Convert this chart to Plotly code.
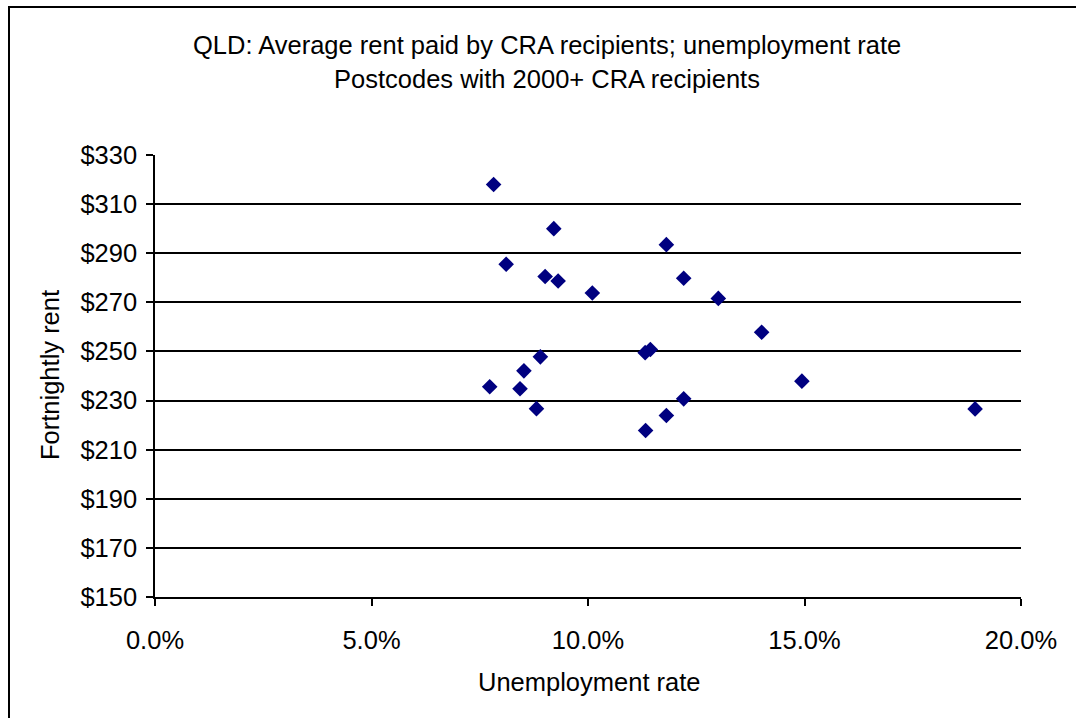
import plotly.graph_objects as go

# Unemployment rate (%) and average fortnightly rent ($) per postcode
unemployment = [7.82, 9.21, 11.81, 8.11, 9.01, 9.31, 10.10, 12.21, 13.01, 14.01,
                11.32, 11.44, 8.90, 8.52, 7.73, 8.43, 14.94, 12.21, 8.81, 11.81,
                11.33, 18.94]
rent = [318, 300, 293.5, 285.5, 280.5, 278.7, 273.8, 279.8, 271.6, 257.8,
        249.5, 250.8, 247.8, 242.1, 235.6, 234.8, 237.9, 230.7, 226.7, 223.9,
        217.8, 226.6]

x_ticks = [0, 5, 10, 15, 20]
x_tick_labels = ["0.0%", "5.0%", "10.0%", "15.0%", "20.0%"]
y_ticks = list(range(150, 331, 20))
y_tick_labels = ["$" + str(v) for v in y_ticks]

title_line1 = "QLD: Average rent paid by CRA recipients; unemployment rate"
title_line2 = "Postcodes with 2000+ CRA recipients"
x_title = "Unemployment rate"
y_title = "Fortnightly rent"

W, H = 1076, 718
L, R, T, B = 155, 55, 155, 121
pw, ph = W - L - R, H - T - B

def px_x(p):
    return (p - L) / pw

def px_y(p):
    return (H - B - p) / ph

FONT = "Liberation Sans, Arial, sans-serif"
FS = 25.5

fig = go.Figure()
fig.add_trace(go.Scatter(
    x=unemployment, y=rent, mode="markers",
    marker=dict(symbol="diamond", size=12, color="#000080", line=dict(width=0)),
    showlegend=False, cliponaxis=False,
))

fig.update_layout(
    width=W, height=H,
    margin=dict(l=L, r=R, t=T, b=B, pad=0),
    paper_bgcolor="white", plot_bgcolor="white",
    font=dict(family=FONT, size=FS, color="black"),
    showlegend=False,
    xaxis=dict(
        range=[0, 20], tickvals=x_ticks, ticktext=x_tick_labels,
        showgrid=False, zeroline=False,
        showline=True, linecolor="black", linewidth=1.5,
        ticks="outside", ticklen=7, tickwidth=1.5, tickcolor="black",
        ticklabelstandoff=13,
        tickfont=dict(family=FONT, size=FS, color="black"),
    ),
    yaxis=dict(
        range=[150, 330], tickvals=y_ticks, ticktext=y_tick_labels,
        showgrid=True, gridcolor="black", gridwidth=1.5, zeroline=False,
        showline=True, linecolor="black", linewidth=1.5,
        ticks="outside", ticklen=7, tickwidth=1.5, tickcolor="black",
        ticklabelstandoff=4,
        tickfont=dict(family=FONT, size=FS, color="black"),
    ),
    shapes=[dict(
        type="rect", xref="paper", yref="paper",
        x0=px_x(9), x1=px_x(W + 20), y0=px_y(H + 20), y1=px_y(7),
        line=dict(color="black", width=2), fillcolor="rgba(0,0,0,0)", layer="below",
    )],
    annotations=[
        dict(text=title_line1, xref="paper", yref="paper", x=px_x(547), y=px_y(45),
             xanchor="center", yanchor="middle", showarrow=False,
             font=dict(family=FONT, size=FS, color="black")),
        dict(text=title_line2, xref="paper", yref="paper", x=px_x(547), y=px_y(79),
             xanchor="center", yanchor="middle", showarrow=False,
             font=dict(family=FONT, size=FS, color="black")),
        dict(text=x_title, xref="paper", yref="paper", x=px_x(589), y=px_y(682),
             xanchor="center", yanchor="middle", showarrow=False,
             font=dict(family=FONT, size=FS, color="black")),
        dict(text=y_title, xref="paper", yref="paper", x=px_x(50), y=px_y(375),
             xanchor="center", yanchor="middle", showarrow=False, textangle=-90,
             font=dict(family=FONT, size=FS, color="black")),
    ],
)

fig.write_html("out.html")
